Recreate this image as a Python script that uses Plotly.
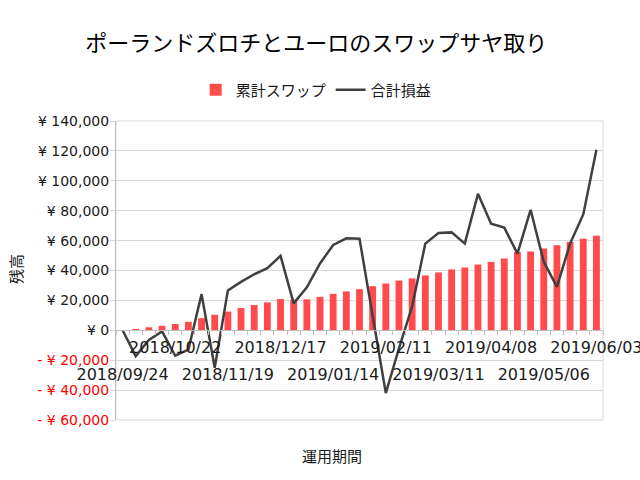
import plotly.graph_objects as go

dates = [
    "2018/09/24", "2018/10/01", "2018/10/08", "2018/10/15", "2018/10/22", "2018/10/29",
    "2018/11/05", "2018/11/12", "2018/11/19", "2018/11/26", "2018/12/03", "2018/12/10",
    "2018/12/17", "2018/12/24", "2018/12/31", "2019/01/07", "2019/01/14", "2019/01/21",
    "2019/01/28", "2019/02/04", "2019/02/11", "2019/02/18", "2019/02/25", "2019/03/04",
    "2019/03/11", "2019/03/18", "2019/03/25", "2019/04/01", "2019/04/08", "2019/04/15",
    "2019/04/22", "2019/04/29", "2019/05/06", "2019/05/13", "2019/05/20", "2019/05/27",
    "2019/06/03",
]
swap_total = [
    0, 900, 2000, 3000, 4200, 5700, 8100, 10400, 12500, 14900, 16900, 18700,
    20900, 20500, 20700, 22400, 24400, 26000, 27500, 29500, 31300, 33300, 34700,
    36700, 38700, 40700, 42000, 44000, 45800, 48000, 52400, 52700, 54700, 56900,
    59100, 61300, 63300,
]
pl_total = [
    0, -17300, -6500, -700, -17000, -13000, 24200, -25000, 26700, 32400, 37500,
    41500, 49800, 18000, 28700, 44700, 57100, 61500, 61300, 9000, -42000, -12000,
    16000, 58000, 65100, 65500, 58000, 91300, 71300, 68700, 51300, 80600, 45800,
    29100, 58000, 77500, 120700,
]
y_ticks = [-60000, -40000, -20000, 0, 20000, 40000, 60000, 80000, 100000, 120000, 140000]
row1_idx = [4, 12, 20, 28, 36]
row2_idx = [0, 8, 16, 24, 32]

idx = list(range(len(dates)))


def yen(v):
    if v < 0:
        return '<span style="color:#FF0000">- ¥ {:,}</span>'.format(abs(v))
    if v == 0:
        return "¥ 0"
    return "¥ {:,}".format(v)


FONT = "DejaVu Sans, Noto Sans CJK JP, sans-serif"
GRID = "#d9d9d9"
AX = "#bfbfbf"

fig = go.Figure()
fig.add_trace(go.Bar(x=idx, y=swap_total, name="累計スワップ",
                     marker=dict(color="#FF4B4B", line=dict(width=0))))
fig.add_trace(go.Scatter(x=idx, y=pl_total, name="合計損益", mode="lines",
                         line=dict(color="#404040", width=2.5)))
fig.add_trace(go.Scatter(x=idx, y=pl_total, xaxis="x2", mode="lines",
                         line=dict(width=0), opacity=0, showlegend=False,
                         hoverinfo="skip"))

xr = [-0.5, len(dates) - 0.5]
fig.update_layout(
    width=640, height=480,
    margin=dict(l=116, r=37, t=121, b=60, autoexpand=False),
    paper_bgcolor="white", plot_bgcolor="white",
    font=dict(family=FONT, size=15, color="#1a1a1a"),
    bargap=0.48,
    title=dict(text="ポーランドズロチとユーロのスワップサヤ取り",
               font=dict(size=22, color="#000000", family="Noto Sans CJK JP"),
               x=0.494, xref="container", xanchor="center",
               y=1 - 43 / 480, yref="container", yanchor="middle"),
    legend=dict(orientation="h", x=0.494, xref="container", xanchor="center",
                y=1 - 90 / 480, yref="container", yanchor="middle",
                font=dict(size=15, family="Noto Sans CJK JP"),
                itemwidth=30, tracegroupgap=0),
    xaxis=dict(range=xr, anchor="free", position=0.3, automargin=False,
               showline=True, linecolor=AX, linewidth=1,
               showgrid=False, zeroline=False,
               tickmode="array", tickvals=row1_idx,
               ticktext=[dates[i] for i in row1_idx],
               ticks="", tickfont=dict(size=16),
               ticklabelstandoff=2, ticklabeloverflow="allow",
               minor=dict(ticks="outside", ticklen=4, tick0=0.5, dtick=1,
                          tickcolor=AX, showgrid=False)),
    xaxis2=dict(range=xr, overlaying="x", anchor="free", position=0.3,
                automargin=False,
                side="bottom", showline=False, showgrid=False, zeroline=False,
                tickmode="array", tickvals=row2_idx,
                ticktext=[dates[i] for i in row2_idx],
                ticks="", tickfont=dict(size=16),
                ticklabelstandoff=33, ticklabeloverflow="allow"),
    yaxis=dict(range=[-60000, 140000], tickmode="array", tickvals=y_ticks,
               ticktext=[yen(v) for v in y_ticks], automargin=False,
               showgrid=True, gridcolor=GRID, gridwidth=1,
               zeroline=False, showline=True, linecolor=AX, linewidth=1,
               ticks="outside", ticklen=5, tickcolor=GRID,
               ticklabelstandoff=-2,
               tickfont=dict(size=14)),
    shapes=[dict(type="rect", xref="paper", yref="paper", x0=0, x1=1, y0=0, y1=1,
                 line=dict(color=GRID, width=1), layer="below")],
    annotations=[
        dict(text="残高", textangle=-90, xref="paper", yref="paper",
             x=(15 - 116) / 487, y=1 - (269 - 121) / 299,
             xanchor="center", yanchor="middle", showarrow=False,
             font=dict(size=15, family="Noto Sans CJK JP", color="#1a1a1a")),
        dict(text="運用期間", xref="paper", yref="paper",
             x=(332 - 116) / 487, y=-(455 - 420) / 299,
             xanchor="center", yanchor="middle", showarrow=False,
             font=dict(size=15, family="Noto Sans CJK JP", color="#1a1a1a")),
    ],
)

fig.write_html("out.html")
